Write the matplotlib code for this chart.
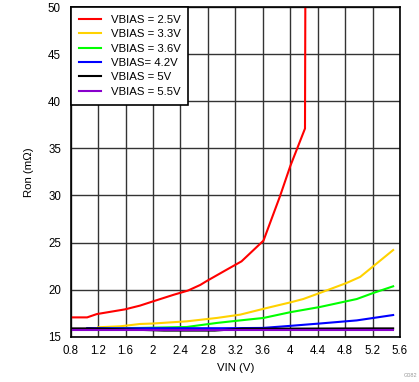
import numpy as np
import matplotlib.pyplot as plt

plt.rcParams['font.family'] = ['Liberation Sans', 'DejaVu Sans']

# Ron vs VIN for each VBIAS
vin_25 = [0.8, 1.04, 1.18, 1.59, 1.81, 2.0, 2.3, 2.51, 2.69, 2.78, 3.07, 3.29, 3.61, 3.85, 4.0, 4.215, 4.22]
ron_25 = [17.05, 17.05, 17.4, 17.9, 18.3, 18.75, 19.45, 19.9, 20.5, 20.9, 22.1, 23.0, 25.2, 29.9, 33.1, 37.1, 50.5]

vin_33 = [1.2, 1.52, 1.81, 2.0, 2.49, 2.93, 3.27, 3.66, 4.0, 4.19, 4.43, 4.82, 5.02, 5.5]
ron_33 = [16.0, 16.1, 16.35, 16.4, 16.63, 16.99, 17.34, 18.05, 18.64, 19.0, 19.64, 20.7, 21.35, 24.2]

vin_36 = [1.2, 1.81, 2.49, 2.93, 3.27, 3.61, 4.0, 4.43, 4.97, 5.21, 5.5]
ron_36 = [15.9, 15.93, 16.03, 16.46, 16.73, 16.99, 17.6, 18.15, 19.0, 19.64, 20.35]

vin_42 = [1.04, 1.6, 2.4, 3.0, 3.6, 4.0, 4.43, 4.97, 5.5]
ron_42 = [15.9, 15.9, 15.9, 15.9, 15.93, 16.15, 16.4, 16.73, 17.3]

vin_50 = [0.8, 1.1, 2.16, 2.9, 3.3, 3.6, 5.25, 5.5]
ron_50 = [15.88, 15.88, 15.65, 15.65, 15.85, 15.85, 15.88, 15.88]

vin_55 = [0.8, 5.5]
ron_55 = [15.75, 15.75]

series = [
    (vin_25, ron_25, '#FF0000', 'VBIAS = 2.5V'),
    (vin_33, ron_33, '#FFD200', 'VBIAS = 3.3V'),
    (vin_36, ron_36, '#00FF00', 'VBIAS = 3.6V'),
    (vin_42, ron_42, '#0000FF', 'VBIAS= 4.2V'),
    (vin_50, ron_50, '#000000', 'VBIAS = 5V'),
    (vin_55, ron_55, '#8800CC', 'VBIAS = 5.5V'),
]

xticks = [0.8, 1.2, 1.6, 2, 2.4, 2.8, 3.2, 3.6, 4, 4.4, 4.8, 5.2, 5.6]
yticks = [15, 20, 25, 30, 35, 40, 45, 50]

fig = plt.figure(figsize=(4.19, 3.82), dpi=100)
ax = fig.add_axes([0.1687, 0.1186, 0.786, 0.863])

for x, y, c, lab in series:
    ax.plot(x, y, color=c, lw=1.5, label=lab, solid_joinstyle='miter')

ax.set_xlim(0.8, 5.6)
ax.set_ylim(15, 50)
ax.set_xticks(xticks)
ax.set_xticklabels([f'{t:g}' for t in xticks])
ax.set_yticks(yticks)
ax.tick_params(length=0, labelsize=8.3)
ax.tick_params(axis='x', pad=6)
ax.tick_params(axis='y', pad=7)
ax.grid(True, color='#333333', lw=1)
ax.set_axisbelow(True)
for s in ax.spines.values():
    s.set_color('black')
    s.set_linewidth(1.2)

ax.set_xlabel('VIN (V)', fontsize=8.2, labelpad=4)
ax.set_ylabel('Ron (mΩ)', fontsize=8.2, labelpad=10)

leg = ax.legend(loc='upper left', fontsize=8.2, frameon=True, fancybox=False,
                borderaxespad=0, handlelength=2.0, labelspacing=0.38,
                borderpad=0.7, handletextpad=0.8)
leg.get_frame().set_edgecolor('black')
leg.get_frame().set_linewidth(1.2)
leg.get_frame().set_alpha(1)

fig.text(0.995, 0.01, 'G082', fontsize=4, color='#999999', ha='right', va='bottom')

fig.savefig('out.png', dpi=100)
